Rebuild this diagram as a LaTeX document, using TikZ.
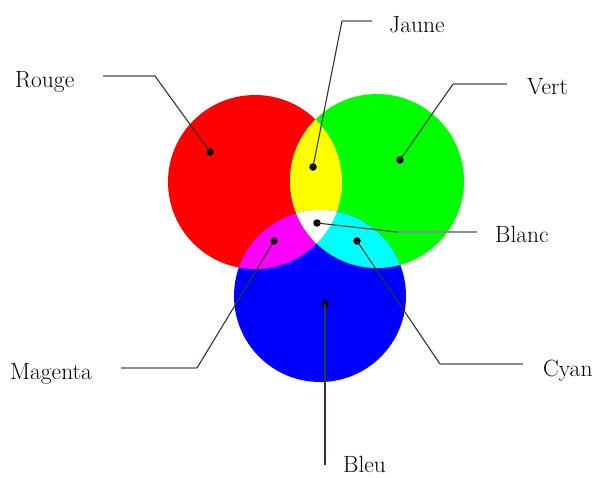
\documentclass[tikz,border=0pt]{standalone}
\usepackage{tikz}
\usetikzlibrary{positioning}
\usepackage{xcolor}
\definecolor{addRed}{HTML}{FF0000}
\definecolor{addGreen}{HTML}{00FF00}
\definecolor{addBlue}{HTML}{0000FF}
\definecolor{addYellow}{HTML}{FFFF00}
\definecolor{addMagenta}{HTML}{FF00FF}
\definecolor{addCyan}{HTML}{00FFFF}
\definecolor{leadGray}{HTML}{8C8C8C}
\definecolor{leadInk}{HTML}{2A3A2A}
\tikzset{
  dotmark/.style = {circle, fill=black, inner sep=0pt, minimum size=7.5pt},
  tag/.style     = {font=\fontsize{23.5}{28}\selectfont, inner sep=0pt,
                    anchor=base west},
  tail/.style    = {draw=leadGray, line width=1.9pt},
  leg/.style     = {draw=leadInk, line width=1.1pt},
}
\newcommand{\discR}{(255,182) circle (87pt)}
\newcommand{\discG}{(377,181) circle (87pt)}
\newcommand{\discB}{(320,296) circle (86pt)}

\begin{document}
\begin{tikzpicture}[x=1pt, y=-1pt]
  \useasboundingbox (0,0) rectangle (599,477);

  % the three lamps
  \fill[addRed] \discR;
  \fill[addGreen] \discG;
  \fill[addBlue] \discB;
  \begin{scope}
    \clip \discR;
    \fill[addYellow] \discG;
    \fill[addMagenta] \discB;
  \end{scope}
  \begin{scope}
    \clip \discG;
    \fill[addCyan] \discB;
    \clip \discR;
    \fill[white] \discB;
  \end{scope}

  % dots
  \node[dotmark] (dRouge)   at (210,152) {};
  \node[dotmark] (dJaune)   at (313,167) {};
  \node[dotmark] (dVert)    at (400,160) {};
  \node[dotmark] (dBlanc)   at (317,223) {};
  \node[dotmark] (dMagenta) at (274,241) {};
  \node[dotmark] (dCyan)    at (357,241) {};
  \node[dotmark] (dBleu)    at (325,304) {};

  % labels
  \node[tag] (rouge)   at (15,87)   {Rouge};
  \node[tag] (jaune)   at (389,32)  {Jaune};
  \node[tag] (vert)    at (527,94)  {Vert};
  \node[tag] (blanc)   at (495,242) {Blanc};
  \node[tag] (cyan)    at (543,376) {Cyan};
  \node[tag] (bleu)    at (343,472) {Bleu};
  \node[tag] (magenta) at (10,379)  {Magenta};

  % leaders
  \coordinate (rougeEnd) at (103,76);  \coordinate (rougeBend) at (155,76);
  \draw[tail] (rougeEnd) -- (rougeBend);
  \draw[leg] (rougeBend) -- (dRouge.center);

  \coordinate (jauneEnd) at (372,21);  \coordinate (jauneBend) at (342,21);
  \draw[tail] (jauneEnd) -- (jauneBend);
  \draw[leg] (jauneBend) -- (dJaune.center);

  \coordinate (vertEnd) at (507,84);   \coordinate (vertBend) at (453,84);
  \draw[tail] (vertEnd) -- (vertBend);
  \draw[leg] (vertBend) -- (dVert.center);

  \coordinate (blancEnd) at (477,232); \coordinate (blancBend) at (397,232);
  \draw[tail] (blancEnd) -- (blancBend);
  \draw[leg] (blancBend) -- (dBlanc.center);

  \coordinate (cyanEnd) at (523,364);  \coordinate (cyanBend) at (440,364);
  \draw[tail] (cyanEnd) -- (cyanBend);
  \draw[leg] (cyanBend) -- (dCyan.center);

  \coordinate (magentaEnd) at (121,368); \coordinate (magentaBend) at (197,368);
  \draw[tail] (magentaEnd) -- (magentaBend);
  \draw[leg] (magentaBend) -- (dMagenta.center);

  \coordinate (bleuEnd) at (325,465);
  \draw[leg] (bleuEnd) -- (dBleu.center);
\end{tikzpicture}
\end{document}
